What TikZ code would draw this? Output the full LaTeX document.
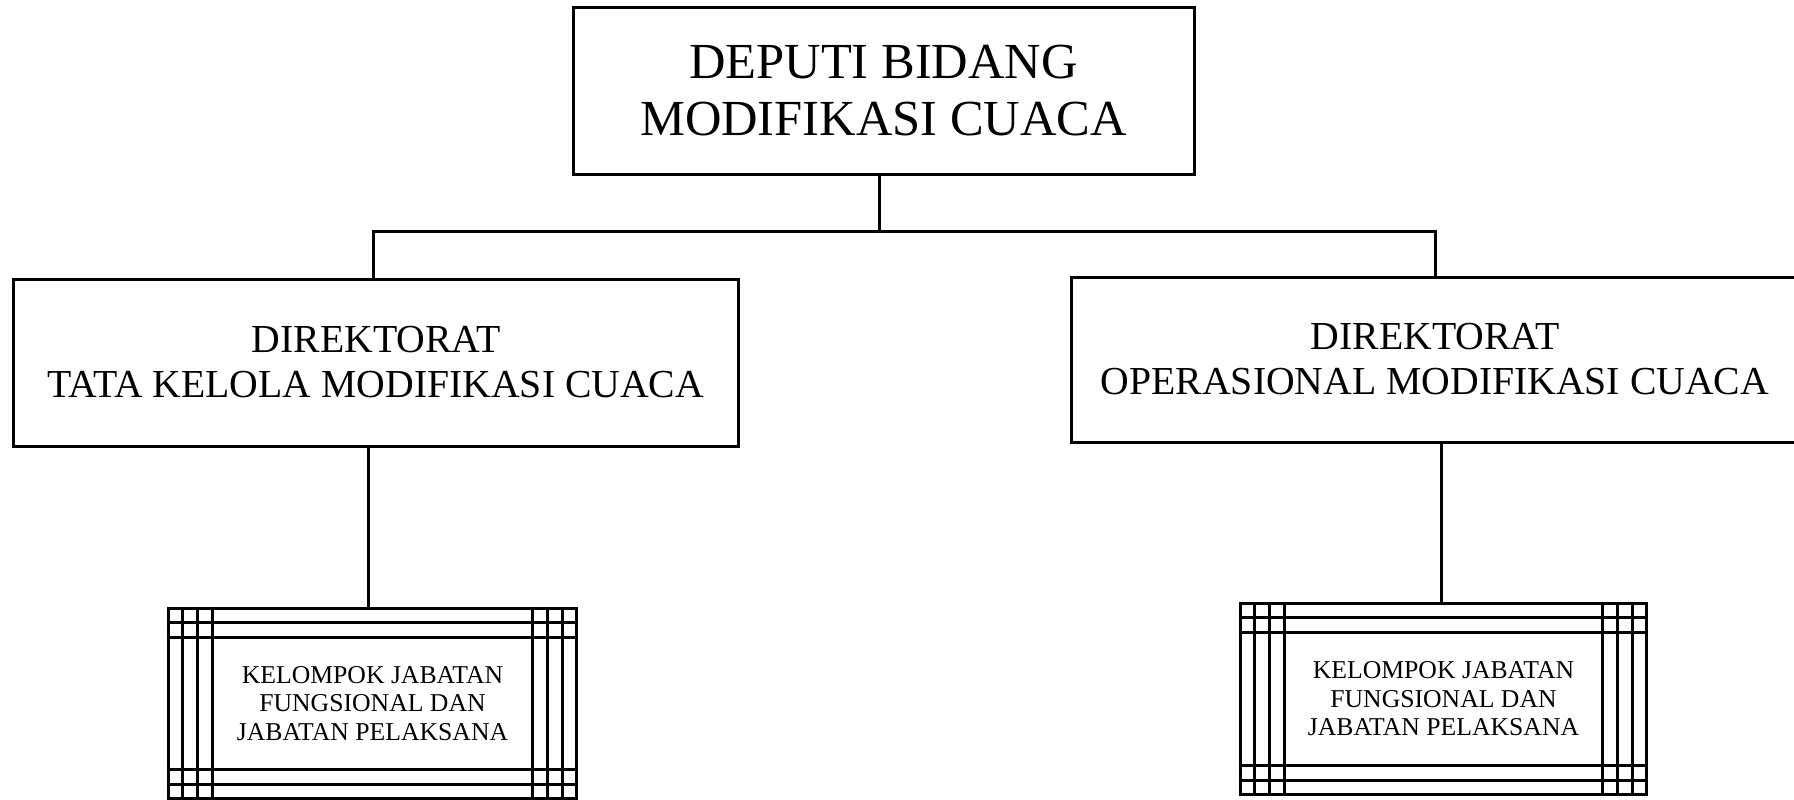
\documentclass[tikz,border=0pt]{standalone}
\usepackage{fontspec}
\setmainfont{Liberation Serif}
\usetikzlibrary{positioning}

\tikzset{
  unit/.style={draw=black, line width=3pt, align=center, inner sep=0pt},
  link/.style={draw=black, line width=3pt},
  kelompok/.style={align=center, inner sep=0pt, font=\fontsize{25.7}{28.5}\selectfont},
  bingkai/.style={draw=black, line width=3pt},
}

\begin{document}
\begin{tikzpicture}
[x=1pt, y=-1pt]
\useasboundingbox (0,0) rectangle (1794,800);
\node (deputi) [unit, minimum width=621pt, minimum height=166pt, font=\fontsize{50.5}{57}\selectfont] at (883.5, 91) {DEPUTI BIDANG\\MODIFIKASI CUACA};
\node (tkmc) [unit, minimum width=725pt, minimum height=167pt, font=\fontsize{39.7}{45}\selectfont] at (376, 362.5) {DIREKTORAT\\TATA KELOLA MODIFIKASI CUACA};
\node (omc) [unit, minimum width=728pt, minimum height=165pt, font=\fontsize{39.7}{45}\selectfont] at (1435, 359.5) {DIREKTORAT\\OPERASIONAL MODIFIKASI CUACA};
\node (kl) [kelompok, minimum width=411pt, minimum height=193pt] at (372.5, 703.5) {KELOMPOK JABATAN\\FUNGSIONAL DAN\\JABATAN PELAKSANA};
\node (kr) [kelompok, minimum width=409pt, minimum height=194pt] at (1443.5, 699) {KELOMPOK JABATAN\\FUNGSIONAL DAN\\JABATAN PELAKSANA};
\coordinate (bus) at (0, 231);

% connectors
\draw [link] ([xshift=-4.5pt]deputi.south) -- ([xshift=-4.5pt]deputi.south |- bus);
\draw [link] ([xshift=-3pt]tkmc.north) -- ([xshift=-3pt]tkmc.north |- bus) -| (omc.north);
\draw [link] ([xshift=-8pt]tkmc.south) -- ([xshift=-8pt]tkmc.south |- kl.north);
\draw [link] ([xshift=6.5pt]omc.south) -- ([xshift=6.5pt]omc.south |- kr.north);

% ruled frames round the lower boxes
\foreach \k in {kl, kr} {
  \foreach \d in {1.5, 16, 31, 46} {
    \draw [bingkai] ([xshift=\d pt]\k.north west) -- ([xshift=\d pt]\k.south west);
    \draw [bingkai] ([xshift=-\d pt]\k.north east) -- ([xshift=-\d pt]\k.south east);
  }
  \foreach \d in {1.5, 16, 31} {
    \draw [bingkai] ([yshift=-\d pt]\k.north west) -- ([yshift=-\d pt]\k.north east);
    \draw [bingkai] ([yshift=\d pt]\k.south west) -- ([yshift=\d pt]\k.south east);
  }
}

\end{tikzpicture}
\end{document}
